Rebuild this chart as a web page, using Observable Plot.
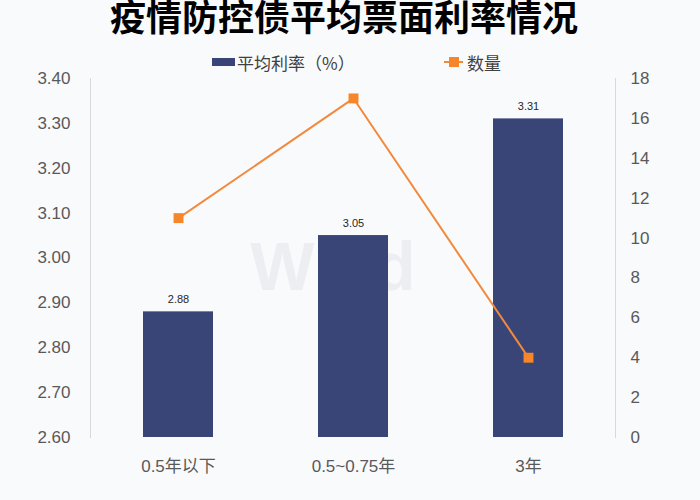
<!DOCTYPE html>
<html>
<head>
<meta charset="utf-8">
<script src="https://cdn.jsdelivr.net/npm/d3@7"></script>
<script src="https://cdn.jsdelivr.net/npm/@observablehq/plot@0.6"></script>
<style>
  html, body { margin: 0; padding: 0; background: #f9fafc; }
  #wrap { position: relative; width: 700px; height: 500px; overflow: hidden; background: #f9fafc;
          font-family: "Liberation Sans", "Noto Sans CJK SC", sans-serif; }
  #title { position: absolute; top: -7px; left: -6px; width: 700px; text-align: center;
           font-family: "Noto Sans CJK SC", sans-serif; font-weight: 700; font-size: 36px; line-height: 44px; color: #000; }
  #legend { position: absolute; top: 51px; left: 0; width: 700px; height: 22px; font-size: 17px; color: #404040;
            font-family: "Noto Sans CJK SC", sans-serif; }
  .item { position: absolute; top: 0; display: flex; align-items: center; height: 22px; }
  #chart { position: absolute; top: 60px; left: 0; }
</style>
</head>
<body>
<div id="wrap">
  <div id="title">疫情防控债平均票面利率情况</div>
  <div id="legend"></div>
  <div id="chart"></div>
</div>
<script>
const categories = ["0.5年以下", "0.5~0.75年", "3年"];
const rates = [2.88, 3.05, 3.31];
const counts = [11, 17, 4];
const rateTicks = [2.6, 2.7, 2.8, 2.9, 3.0, 3.1, 3.2, 3.3, 3.4];
const countTicks = [0, 2, 4, 6, 8, 10, 12, 14, 16, 18];
const seriesNames = ["平均利率（%）", "数量"];

const barColor = "#394577";
const lineColor = "#f28a3e";
const markColor = "#f7862a";

const rMin = 2.6, rMax = 3.4, cMax = 18;
const toRate = c => rMin + c * (rMax - rMin) / cMax;
const fromRate = r => (r - rMin) * cMax / (rMax - rMin);

const data = categories.map((c, i) => ({cat: c, rate: rates[i], count: counts[i], countY: toRate(counts[i])}));

// legend
const legend = document.getElementById("legend");
legend.innerHTML = `
  <div class="item" style="left:212px"><span style="display:inline-block;width:23px;height:8px;background:${barColor};margin-right:2px"></span>${seriesNames[0]}</div>
  <div class="item" style="left:444px"><span style="position:relative;display:inline-block;width:19px;height:10px;margin-right:4px">
     <span style="position:absolute;left:0;top:4px;width:19px;height:2px;background:${lineColor}"></span>
     <span style="position:absolute;left:5px;top:0;width:10px;height:10px;background:${markColor}"></span></span>${seriesNames[1]}</div>`;

const tickColor = "#595959";
const chart = Plot.plot({
  width: 700,
  height: 440,
  marginTop: 18,
  marginBottom: 63,
  marginLeft: 90,
  marginRight: 85,
  style: {background: "transparent", fontFamily: "Liberation Sans, Noto Sans CJK SC, sans-serif"},
  x: {domain: categories, paddingInner: 0.6, paddingOuter: 0.3, label: null},
  y: {domain: [rMin, rMax], label: null},
  marks: [
    Plot.text(["Wind"], {frameAnchor: "middle", dx: -20, dy: 10, fontSize: 68, fontWeight: "bold", fill: "#eceef2", fontFamily: "Liberation Sans, sans-serif"}),
    Plot.frame({anchor: "left", stroke: "#d9d9d9"}),
    Plot.frame({anchor: "right", stroke: "#d9d9d9"}),
    Plot.barY(data, {x: "cat", y1: rMin, y2: "rate", fill: barColor}),
    Plot.text(data, {x: "cat", y: "rate", text: d => d.rate.toFixed(2), dy: -12, fontSize: 11, fill: "#262626"}),
    Plot.line(data, {x: "cat", y: "countY", stroke: lineColor, strokeWidth: 2}),
    Plot.dot(data, {x: "cat", y: "countY", symbol: "square", r: 5.6, fill: markColor, stroke: "none"}),
    Plot.axisY({ticks: rateTicks, tickFormat: d => d.toFixed(2), tickSize: 0, tickPadding: 20, fontSize: 17, color: tickColor, label: null}),
    Plot.axisY({anchor: "right", ticks: countTicks.map(toRate), tickFormat: d => String(Math.round(fromRate(d))), tickSize: 0, tickPadding: 15, fontSize: 17, color: tickColor, label: null}),
    Plot.axisX({tickSize: 0, tickPadding: 22, fontSize: 17, color: tickColor, label: null, fontFamily: "Liberation Sans, Noto Sans CJK SC, sans-serif"})
  ]
});
document.getElementById("chart").appendChild(chart);
</script>
</body>
</html>
